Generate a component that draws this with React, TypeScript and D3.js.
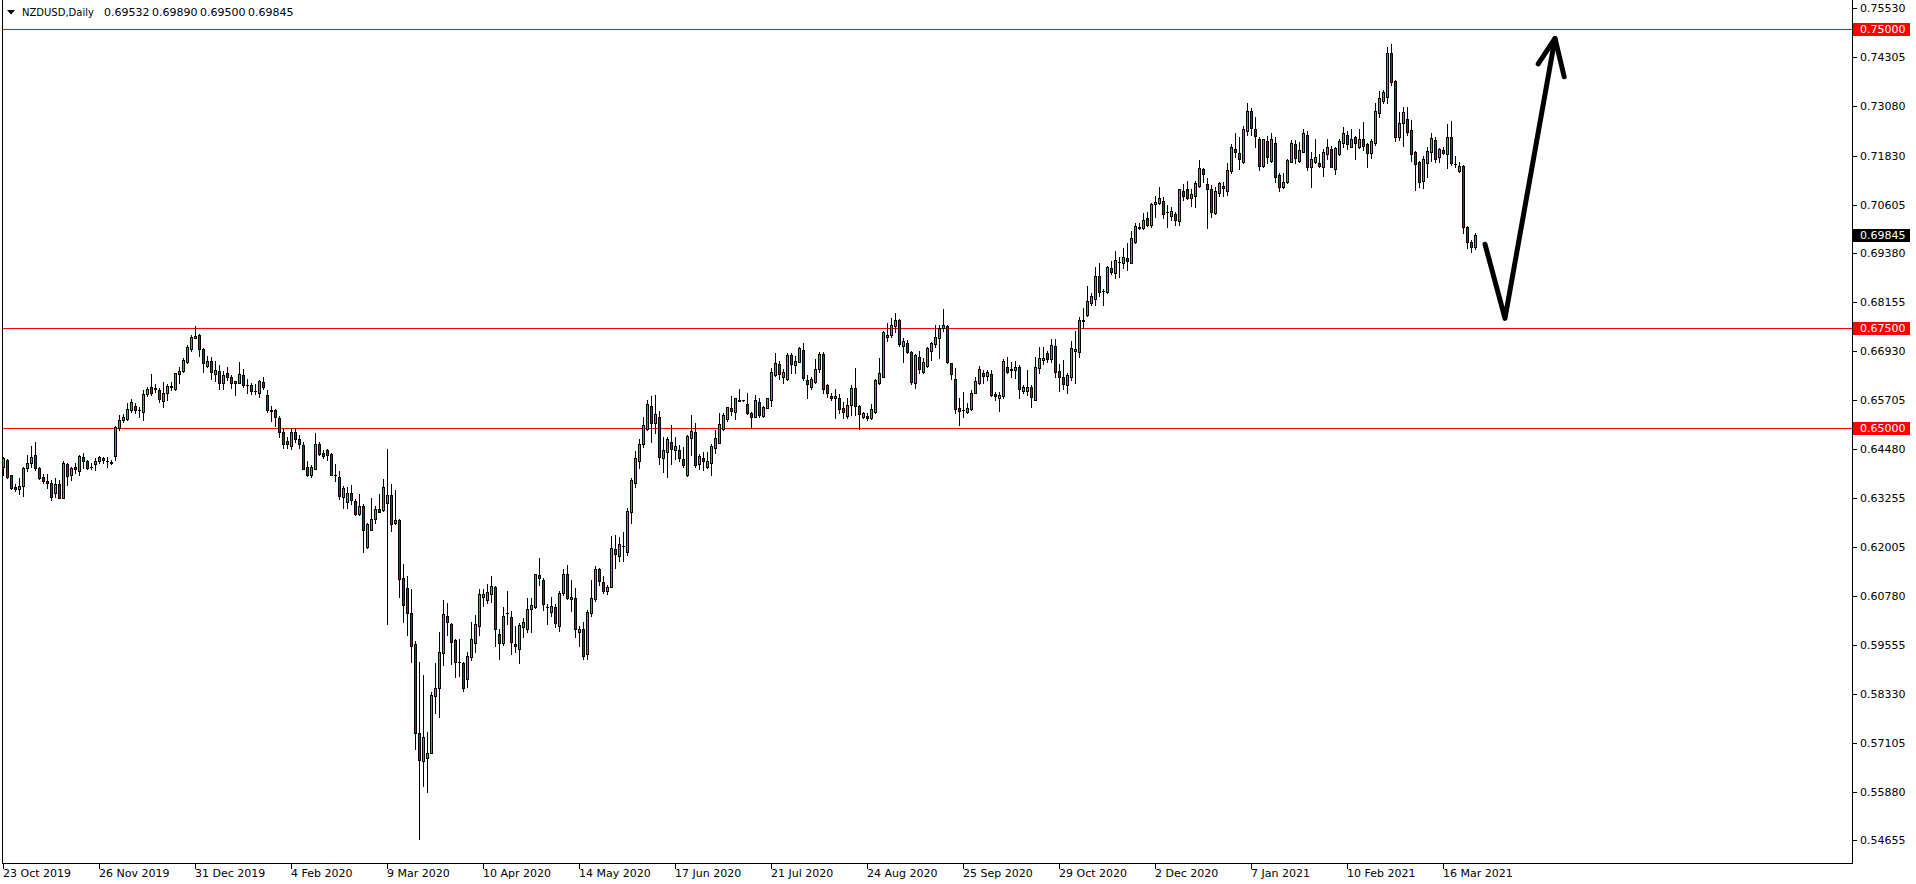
import React from "react";
import * as d3 from "d3";

// ---- Data (NZDUSD daily) ----
const opens = [
0.6403,0.6420,0.6381,0.6351,0.6346,0.6355,0.6399,0.6413,0.6432,0.6399,
0.6376,0.6366,0.6361,0.6336,0.6360,0.6325,0.6409,0.6381,0.6401,0.6393,
0.6428,0.6416,0.6402,0.6409,0.6417,0.6425,0.6417,0.6413,0.6431,0.6501,
0.6519,0.6522,0.6544,0.6555,0.6545,0.6539,0.6585,0.6602,0.6599,0.6595,
0.6567,0.6589,0.6604,0.6597,0.6636,0.6644,0.6666,0.6697,0.6726,0.6733,
0.6697,0.6656,0.6667,0.6635,0.6642,0.6612,0.6637,0.6627,0.6612,0.6614,
0.6633,0.6607,0.6607,0.6594,0.6588,0.6616,0.6582,0.6544,0.6544,0.6525,
0.6489,0.6467,0.6455,0.6489,0.6472,0.6457,0.6402,0.6381,0.6398,0.6461,
0.6437,0.6444,0.6435,0.6382,0.6376,0.6326,0.6315,0.6337,0.6317,0.6285,
0.6304,0.6201,0.6245,0.6271,0.6296,0.6294,0.6313,0.6332,0.6262,0.6270,
0.6124,0.6098,0.6035,0.5957,0.5736,0.5666,0.5672,0.5684,0.5829,0.5847,
0.5935,0.6029,0.6009,0.5968,0.5912,0.5910,0.5870,0.5926,0.5962,0.6004,
0.6077,0.6069,0.6084,0.6100,0.5983,0.5962,0.6036,0.6025,0.5958,0.5945,
0.6002,0.5995,0.6045,0.6050,0.6131,0.6119,0.6051,0.6039,0.6052,0.6004,
0.6085,0.6135,0.6070,0.6073,0.5989,0.5995,0.5933,0.6037,0.6071,0.6146,
0.6113,0.6090,0.6100,0.6196,0.6180,0.6205,0.6190,0.6290,0.6363,0.6416,
0.6460,0.6497,0.6555,0.6512,0.6527,0.6424,0.6441,0.6466,0.6446,0.6446,
0.6421,0.6382,0.6476,0.6489,0.6409,0.6424,0.6403,0.6411,0.6451,0.6463,
0.6497,0.6522,0.6549,0.6539,0.6568,0.6570,0.6559,0.6537,0.6527,0.6564,
0.6531,0.6549,0.6569,0.6633,0.6660,0.6629,0.6622,0.6683,0.6657,0.6665,
0.6696,0.6620,0.6604,0.6615,0.6647,0.6686,0.6608,0.6580,0.6574,0.6574,
0.6549,0.6530,0.6558,0.6600,0.6556,0.6527,0.6530,0.6524,0.6539,0.6612,
0.6627,0.6728,0.6733,0.6756,0.6771,0.6706,0.6712,0.6690,0.6614,0.6679,
0.6641,0.6656,0.6694,0.6711,0.6725,0.6750,0.6756,0.6662,0.6622,0.6549,
0.6545,0.6541,0.6548,0.6589,0.6612,0.6637,0.6630,0.6635,0.6585,0.6575,
0.6579,0.6654,0.6645,0.6645,0.6654,0.6594,0.6594,0.6604,0.6570,0.6650,
0.6670,0.6687,0.6672,0.6706,0.6643,0.6629,0.6608,0.6629,0.6693,0.6691,
0.6769,0.6783,0.6814,0.6823,0.6881,0.6844,0.6842,0.6901,0.6888,0.6917,
0.6913,0.6926,0.6915,0.6967,0.7001,0.7001,0.7027,0.7009,0.7062,0.7065,
0.7069,0.7041,0.7032,0.7037,0.7020,0.7094,0.7099,0.7078,0.7082,0.7107,
0.7150,0.7111,0.7099,0.7038,0.7089,0.7107,0.7095,0.7145,0.7200,0.7189,
0.7168,0.7246,0.7295,0.7249,0.7224,0.7156,0.7220,0.7170,0.7216,0.7134,
0.7105,0.7116,0.7166,0.7211,0.7170,0.7193,0.7236,0.7154,0.7166,0.7164,
0.7155,0.7186,0.7200,0.7149,0.7187,0.7214,0.7236,0.7205,0.7229,0.7205,
0.7224,0.7211,0.7189,0.7214,0.7291,0.7320,0.7331,0.7440,0.7370,0.7231,
0.7264,0.7274,0.7247,0.7191,0.7166,0.7120,0.7164,0.7193,0.7222,0.7179,
0.7197,0.7186,0.7229,0.7162,0.7145,0.7157,0.7003,0.6966,0.69532,
];

const highs = [
0.6428,0.6422,0.6382,0.6360,0.6374,0.6403,0.6432,0.6455,0.6464,0.6403,
0.6385,0.6384,0.6370,0.6374,0.6370,0.6416,0.6413,0.6403,0.6412,0.6432,
0.6437,0.6420,0.6412,0.6424,0.6430,0.6428,0.6428,0.6420,0.6505,0.6533,
0.6534,0.6562,0.6572,0.6562,0.6552,0.6595,0.6602,0.6636,0.6610,0.6600,
0.6615,0.6610,0.6615,0.6639,0.6654,0.6675,0.6708,0.6733,0.6756,0.6736,
0.6700,0.6681,0.6679,0.6669,0.6658,0.6644,0.6652,0.6633,0.6618,0.6665,
0.6649,0.6622,0.6614,0.6610,0.6621,0.6628,0.6595,0.6554,0.6548,0.6529,
0.6499,0.6478,0.6499,0.6501,0.6482,0.6464,0.6417,0.6406,0.6487,0.6464,
0.6444,0.6448,0.6438,0.6409,0.6393,0.6355,0.6351,0.6357,0.6321,0.6334,
0.6309,0.6262,0.6324,0.6304,0.6334,0.6372,0.6447,0.6360,0.6344,0.6273,
0.6158,0.6130,0.6095,0.5965,0.5914,0.5880,0.5738,0.5839,0.5911,0.5989,
0.6069,0.6060,0.6012,0.5972,0.5972,0.5914,0.5939,0.6014,0.6031,0.6096,
0.6096,0.6108,0.6129,0.6104,0.5997,0.6052,0.6092,0.6041,0.6004,0.6010,
0.6023,0.6073,0.6073,0.6134,0.6175,0.6123,0.6059,0.6077,0.6059,0.6092,
0.6146,0.6156,0.6120,0.6098,0.6003,0.6014,0.6044,0.6119,0.6155,0.6150,
0.6129,0.6106,0.6229,0.6232,0.6226,0.6238,0.6299,0.6374,0.6442,0.6472,
0.6527,0.6570,0.6580,0.6583,0.6543,0.6478,0.6478,0.6508,0.6478,0.6457,
0.6453,0.6482,0.6533,0.6512,0.6436,0.6441,0.6441,0.6460,0.6495,0.6537,
0.6537,0.6553,0.6580,0.6576,0.6599,0.6571,0.6589,0.6541,0.6583,0.6574,
0.6555,0.6574,0.6650,0.6689,0.6669,0.6647,0.6689,0.6687,0.6681,0.6704,
0.6714,0.6633,0.6629,0.6672,0.6690,0.6690,0.6610,0.6589,0.6597,0.6585,
0.6565,0.6574,0.6608,0.6651,0.6558,0.6541,0.6537,0.6559,0.6622,0.6675,
0.6744,0.6763,0.6775,0.6788,0.6773,0.6726,0.6721,0.6693,0.6685,0.6693,
0.6675,0.6702,0.6716,0.6758,0.6758,0.6798,0.6758,0.6664,0.6650,0.6574,
0.6591,0.6562,0.6595,0.6627,0.6656,0.6645,0.6645,0.6645,0.6591,0.6591,
0.6672,0.6679,0.6666,0.6668,0.6658,0.6608,0.6645,0.6608,0.6679,0.6702,
0.6704,0.6692,0.6723,0.6722,0.6661,0.6671,0.6637,0.6719,0.6744,0.6778,
0.6800,0.6855,0.6839,0.6905,0.6915,0.6848,0.6906,0.6920,0.6945,0.6930,
0.6951,0.6965,0.6995,0.7015,0.7013,0.7038,0.7042,0.7065,0.7082,0.7104,
0.7080,0.7059,0.7055,0.7042,0.7099,0.7111,0.7120,0.7099,0.7120,0.7172,
0.7153,0.7126,0.7109,0.7105,0.7116,0.7118,0.7164,0.7212,0.7241,0.7229,
0.7257,0.7314,0.7302,0.7279,0.7231,0.7226,0.7232,0.7239,0.7229,0.7139,
0.7139,0.7175,0.7222,0.7222,0.7218,0.7249,0.7245,0.7193,0.7224,0.7187,
0.7199,0.7224,0.7208,0.7204,0.7226,0.7254,0.7246,0.7249,0.7232,0.7250,
0.7268,0.7216,0.7226,0.7316,0.7344,0.7348,0.7456,0.7463,0.7373,0.7292,
0.7306,0.7304,0.7272,0.7195,0.7170,0.7181,0.7204,0.7239,0.7231,0.7203,
0.7204,0.7262,0.7271,0.7182,0.7168,0.7160,0.7007,0.6972,0.69890,
];

const lows = [
0.6382,0.6374,0.6346,0.6343,0.6335,0.6330,0.6391,0.6403,0.6395,0.6371,
0.6361,0.6349,0.6320,0.6328,0.6324,0.6325,0.6357,0.6370,0.6386,0.6382,
0.6399,0.6396,0.6398,0.6395,0.6412,0.6412,0.6401,0.6410,0.6420,0.6495,
0.6514,0.6520,0.6539,0.6537,0.6527,0.6520,0.6579,0.6583,0.6591,0.6564,
0.6552,0.6570,0.6595,0.6595,0.6614,0.6641,0.6664,0.6694,0.6725,0.6681,
0.6641,0.6654,0.6624,0.6618,0.6599,0.6599,0.6620,0.6601,0.6582,0.6614,
0.6604,0.6588,0.6586,0.6586,0.6578,0.6597,0.6540,0.6518,0.6504,0.6478,
0.6450,0.6450,0.6447,0.6465,0.6450,0.6396,0.6379,0.6376,0.6396,0.6432,
0.6425,0.6419,0.6381,0.6368,0.6321,0.6300,0.6300,0.6309,0.6283,0.6281,
0.6190,0.6198,0.6245,0.6262,0.6289,0.6292,0.6009,0.6241,0.6258,0.6077,
0.6014,0.5982,0.5914,0.5694,0.5469,0.5603,0.5586,0.5684,0.5784,0.5774,
0.5906,0.5981,0.5908,0.5876,0.5878,0.5841,0.5850,0.5918,0.5939,0.5981,
0.6054,0.6060,0.6063,0.5952,0.5920,0.5956,0.6008,0.5932,0.5937,0.5910,
0.5977,0.5989,0.5989,0.6048,0.6105,0.6043,0.6008,0.6029,0.6002,0.5992,
0.6081,0.6070,0.6040,0.5977,0.5953,0.5920,0.5921,0.6029,0.6065,0.6106,
0.6087,0.6084,0.6100,0.6148,0.6167,0.6166,0.6181,0.6261,0.6353,0.6400,
0.6453,0.6495,0.6466,0.6488,0.6409,0.6390,0.6378,0.6410,0.6421,0.6416,
0.6403,0.6380,0.6432,0.6403,0.6396,0.6395,0.6400,0.6382,0.6438,0.6463,
0.6495,0.6518,0.6533,0.6522,0.6568,0.6568,0.6534,0.6501,0.6527,0.6528,
0.6528,0.6549,0.6555,0.6630,0.6622,0.6612,0.6620,0.6637,0.6637,0.6665,
0.6620,0.6574,0.6597,0.6612,0.6641,0.6587,0.6577,0.6570,0.6524,0.6537,
0.6524,0.6524,0.6533,0.6533,0.6497,0.6524,0.6520,0.6522,0.6537,0.6610,
0.6627,0.6717,0.6727,0.6741,0.6706,0.6666,0.6687,0.6610,0.6600,0.6639,
0.6637,0.6654,0.6670,0.6702,0.6675,0.6742,0.6664,0.6622,0.6537,0.6508,
0.6527,0.6537,0.6545,0.6587,0.6610,0.6612,0.6620,0.6580,0.6570,0.6543,
0.6574,0.6637,0.6627,0.6625,0.6574,0.6587,0.6583,0.6552,0.6569,0.6637,
0.6660,0.6666,0.6666,0.6627,0.6594,0.6598,0.6587,0.6620,0.6612,0.6677,
0.6750,0.6781,0.6808,0.6808,0.6831,0.6808,0.6839,0.6886,0.6875,0.6878,
0.6901,0.6895,0.6915,0.6965,0.6998,0.6998,0.7007,0.7005,0.7030,0.7063,
0.7026,0.7003,0.7022,0.7009,0.7009,0.7072,0.7074,0.7057,0.7053,0.7105,
0.7118,0.7001,0.7030,0.7037,0.7083,0.7082,0.7084,0.7139,0.7180,0.7150,
0.7164,0.7235,0.7235,0.7204,0.7147,0.7154,0.7165,0.7168,0.7118,0.7095,
0.7103,0.7114,0.7166,0.7165,0.7168,0.7191,0.7147,0.7104,0.7165,0.7154,
0.7133,0.7174,0.7154,0.7136,0.7185,0.7205,0.7199,0.7204,0.7174,0.7203,
0.7196,0.7155,0.7176,0.7210,0.7279,0.7314,0.7314,0.7359,0.7221,0.7222,
0.7208,0.7235,0.7170,0.7098,0.7104,0.7101,0.7130,0.7170,0.7166,0.7166,
0.7186,0.7151,0.7160,0.7155,0.7143,0.6988,0.6951,0.6942,0.69500,
];

const closes = [
0.6424,0.6378,0.6349,0.6346,0.6355,0.6399,0.6413,0.6427,0.6399,0.6374,
0.6368,0.6363,0.6328,0.6360,0.6325,0.6412,0.6380,0.6399,0.6396,0.6430,
0.6416,0.6399,0.6402,0.6417,0.6427,0.6419,0.6416,0.6414,0.6502,0.6520,
0.6528,0.6548,0.6565,0.6544,0.6544,0.6585,0.6598,0.6587,0.6600,0.6572,
0.6589,0.6605,0.6606,0.6637,0.6644,0.6671,0.6702,0.6728,0.6731,0.6697,
0.6662,0.6667,0.6640,0.6646,0.6612,0.6633,0.6629,0.6612,0.6618,0.6635,
0.6607,0.6607,0.6594,0.6594,0.6618,0.6604,0.6544,0.6542,0.6527,0.6489,
0.6461,0.6460,0.6489,0.6472,0.6459,0.6398,0.6382,0.6402,0.6461,0.6436,
0.6430,0.6433,0.6382,0.6382,0.6330,0.6349,0.6338,0.6320,0.6285,0.6304,
0.6245,0.6260,0.6273,0.6296,0.6289,0.6353,0.6332,0.6260,0.6270,0.6122,
0.6057,0.6035,0.5954,0.5736,0.5667,0.5724,0.5684,0.5830,0.5847,0.5937,
0.6034,0.6013,0.5963,0.5914,0.5912,0.5847,0.5928,0.5972,0.6008,0.6084,
0.6084,0.6088,0.6104,0.5995,0.5960,0.6028,0.6036,0.5964,0.5952,0.6006,
0.6014,0.6045,0.6056,0.6134,0.6125,0.6058,0.6051,0.6053,0.6010,0.6085,
0.6135,0.6073,0.6077,0.5995,0.5996,0.5928,0.6038,0.6073,0.6146,0.6117,
0.6092,0.6100,0.6198,0.6184,0.6208,0.6205,0.6292,0.6370,0.6424,0.6461,
0.6507,0.6559,0.6512,0.6534,0.6428,0.6446,0.6472,0.6447,0.6456,0.6425,
0.6406,0.6480,0.6492,0.6406,0.6430,0.6417,0.6417,0.6455,0.6475,0.6509,
0.6533,0.6552,0.6543,0.6574,0.6569,0.6570,0.6537,0.6528,0.6570,0.6533,
0.6552,0.6574,0.6641,0.6662,0.6635,0.6641,0.6683,0.6660,0.6668,0.6700,
0.6626,0.6610,0.6623,0.6647,0.6686,0.6597,0.6589,0.6574,0.6580,0.6547,
0.6539,0.6558,0.6600,0.6554,0.6534,0.6537,0.6524,0.6547,0.6620,0.6637,
0.6740,0.6733,0.6758,0.6771,0.6710,0.6718,0.6690,0.6616,0.6683,0.6648,
0.6666,0.6700,0.6714,0.6729,0.6752,0.6758,0.6666,0.6635,0.6547,0.6543,
0.6545,0.6549,0.6589,0.6618,0.6647,0.6630,0.6640,0.6583,0.6579,0.6583,
0.6668,0.6641,0.6648,0.6654,0.6597,0.6602,0.6604,0.6577,0.6654,0.6675,
0.6676,0.6672,0.6708,0.6641,0.6629,0.6610,0.6633,0.6700,0.6697,0.6771,
0.6770,0.6818,0.6831,0.6881,0.6840,0.6844,0.6903,0.6890,0.6921,0.6917,
0.6928,0.6920,0.6976,0.7007,0.7005,0.7022,0.7009,0.7063,0.7066,0.7076,
0.7037,0.7041,0.7044,0.7022,0.7099,0.7082,0.7078,0.7087,0.7114,0.7151,
0.7136,0.7099,0.7041,0.7094,0.7114,0.7101,0.7147,0.7204,0.7193,0.7174,
0.7249,0.7295,0.7253,0.7233,0.7158,0.7224,0.7179,0.7224,0.7129,0.7104,
0.7116,0.7172,0.7216,0.7176,0.7197,0.7239,0.7155,0.7175,0.7179,0.7157,
0.7191,0.7205,0.7155,0.7203,0.7220,0.7239,0.7211,0.7226,0.7216,0.7225,
0.7207,0.7189,0.7220,0.7295,0.7327,0.7342,0.7441,0.7367,0.7229,0.7264,
0.7292,0.7243,0.7186,0.7161,0.7118,0.7175,0.7195,0.7227,0.7174,0.7200,
0.7189,0.7229,0.7164,0.7162,0.7157,0.7003,0.6966,0.6953,0.69845,
];

const dateLabels = [
  "23 Oct 2019", "26 Nov 2019", "31 Dec 2019", "4 Feb 2020", "9 Mar 2020",
  "10 Apr 2020", "14 May 2020", "17 Jun 2020", "21 Jul 2020", "24 Aug 2020",
  "25 Sep 2020", "29 Oct 2020", "2 Dec 2020", "7 Jan 2021", "10 Feb 2021",
  "16 Mar 2021",
];
const barsPerLabel = 24;

const priceTicks = [
  0.7553, 0.74305, 0.7308, 0.7183, 0.70605, 0.6938, 0.68155, 0.6693, 0.65705,
  0.6448, 0.63255, 0.62005, 0.6078, 0.59555, 0.5833, 0.57105, 0.5588, 0.54655,
];
const levels = [0.75, 0.675, 0.65];
const symbol = "NZDUSD,Daily";
const headerValues = [0.69532, 0.6989, 0.695, 0.69845];

// Hand-drawn projection arrow, in (bar index, price)
const arrowPath: [number, number][] = [[370.5, 0.6961], [375.5, 0.6775], [388, 0.7477]];
const arrowHead: [number, number][] = [[383.8, 0.7413], [388, 0.7477], [390.3, 0.7381]];

const W = 1916;
const H = 884;
const FONT = "'DejaVu Sans', Verdana, sans-serif";
const UP = "#3cb43c";
const DOWN = "#d00000";

export default function App() {
  const n = closes.length;
  const plotRight = 1852;
  const plotBottom = 863;
  const x = d3.scaleLinear().domain([0, n - 1]).range([3, 3 + 4 * (n - 1)]);
  const y = d3.scaleLinear().domain([0.5409, 0.75734]).range([plotBottom, 0]);
  const line = d3
    .line<[number, number]>()
    .x((d) => x(d[0]))
    .y((d) => y(d[1]));

  const candles = d3.range(n).map((i) => {
    const o = opens[i], h = highs[i], l = lows[i], c = closes[i];
    const cx = Math.round(x(i));
    const yh = Math.round(y(h));
    const yl = Math.round(y(l));
    const yo = Math.round(y(o));
    const yc = Math.round(y(c));
    const top = Math.min(yo, yc);
    const bot = Math.max(yo, yc);
    const fill = c > o ? UP : DOWN;
    return (
      <g key={i}>
        <line x1={cx + 0.5} x2={cx + 0.5} y1={yh} y2={yl + 1} stroke="#000" />
        {bot - top >= 1 ? (
          <rect x={cx - 0.5} y={top + 0.5} width={2} height={bot - top} fill={fill} stroke="#000" />
        ) : (
          <line x1={cx - 1} x2={cx + 2} y1={top + 0.5} y2={top + 0.5} stroke="#000" />
        )}
      </g>
    );
  });

  const curPrice = closes[n - 1];

  return (
    <div style={{ position: "fixed", left: 0, top: 0, width: W, height: H, background: "#fff" }}>
      <svg width={W} height={H} style={{ display: "block" }} fontFamily={FONT}>
        <rect x={0} y={0} width={W} height={H} fill="#fff" />
        <g shapeRendering="crispEdges">
          {/* frame */}
          <line x1={2.5} x2={2.5} y1={0} y2={plotBottom + 1} stroke="#000" />
          <line x1={plotRight + 0.5} x2={plotRight + 0.5} y1={0} y2={plotBottom + 1} stroke="#000" />
          <line x1={2} x2={plotRight + 1} y1={plotBottom + 0.5} y2={plotBottom + 0.5} stroke="#000" />
          {/* horizontal levels */}
          {levels.map((p) => {
            const ty = Math.round(y(p));
            return <line key={p} x1={3} x2={plotRight} y1={ty + 0.5} y2={ty + 0.5} stroke="#ff0000" />;
          })}
          {candles}
          {/* right axis ticks */}
          {priceTicks.map((p) => {
            const ty = Math.round(y(p));
            return <line key={p} x1={plotRight + 1} x2={plotRight + 5} y1={ty + 0.5} y2={ty + 0.5} stroke="#000" />;
          })}
          {/* bottom ticks */}
          {dateLabels.map((d, k) => {
            const tx = Math.round(x(k * barsPerLabel));
            return <line key={d} x1={tx + 0.5} x2={tx + 0.5} y1={plotBottom + 1} y2={plotBottom + 6} stroke="#000" />;
          })}
        </g>
        {/* right axis labels */}
        {priceTicks.map((p) => (
          <text key={p} x={1860} y={Math.round(y(p)) + 4} fontSize={11} fill="#000">
            {p.toFixed(5)}
          </text>
        ))}
        {levels.map((p) => {
          const ty = Math.round(y(p));
          return (
            <g key={p}>
              <rect x={plotRight + 1} y={ty - 6} width={57} height={13} fill="#ff0000" shapeRendering="crispEdges" />
              <text x={1860} y={ty + 4} fontSize={11} fill="#fff">{p.toFixed(5)}</text>
            </g>
          );
        })}
        <g>
          <rect x={plotRight + 1} y={Math.round(y(curPrice)) - 6} width={57} height={13} fill="#000" shapeRendering="crispEdges" />
          <text x={1860} y={Math.round(y(curPrice)) + 4} fontSize={11} fill="#fff">{curPrice.toFixed(5)}</text>
        </g>
        {/* date labels */}
        {dateLabels.map((d, k) => (
          <text key={d} x={Math.round(x(k * barsPerLabel))} y={877} fontSize={11} fill="#000">
            {d}
          </text>
        ))}
        {/* header */}
        <polygon points="7,10 15,10 11,14.5" fill="#000" />
        <text x={22} y={16} fontSize={10} fill="#000">{symbol}</text>
        {headerValues.map((v, k) => (
          <text key={k} x={104 + k * 48} y={16} fontSize={11} fill="#000">{v.toFixed(5)}</text>
        ))}
        {/* projection arrow */}
        <path d={line(arrowPath) || ""} fill="none" stroke="#000" strokeWidth={5} strokeLinecap="round" strokeLinejoin="round" />
        <path d={line(arrowHead) || ""} fill="none" stroke="#000" strokeWidth={5} strokeLinecap="round" strokeLinejoin="round" />
      </svg>
    </div>
  );
}
